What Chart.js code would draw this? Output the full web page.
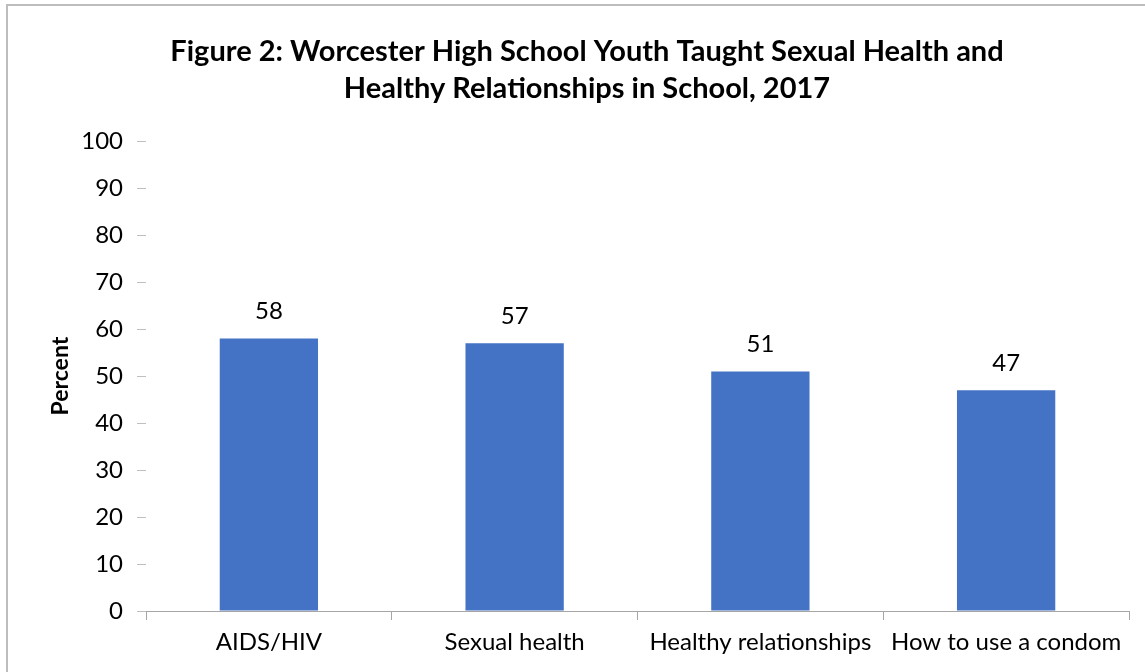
<!DOCTYPE html>
<html>
<head>
<meta charset="utf-8">
<script src="https://cdn.jsdelivr.net/npm/chart.js@4"></script>
<style>
  html, body { margin: 0; padding: 0; background: #fff; }
  #wrap { width: 1145px; height: 672px; position: relative; }
</style>
</head>
<body>
<div id="wrap"><canvas id="chart" width="1145" height="672"></canvas></div>
<script>
const categories = ['AIDS/HIV', 'Sexual health', 'Healthy relationships', 'How to use a condom'];
const percents = [58, 57, 51, 47];
const titleLines = ['Figure 2: Worcester High School Youth Taught Sexual Health and', 'Healthy Relationships in School, 2017'];
const yTitle = 'Percent';

const FONT = 'Lato, "Open Sans", sans-serif';

// value on top of each bar
const barLabels = {
    id: 'barLabels',
    afterDatasetsDraw(chart) {
        const ctx = chart.ctx;
        const meta = chart.getDatasetMeta(0);
        ctx.save();
        ctx.font = '24px ' + FONT;
        ctx.fillStyle = '#000';
        ctx.textAlign = 'center';
        ctx.textBaseline = 'middle';
        meta.data.forEach((bar, i) => {
            ctx.fillText(chart.data.datasets[0].data[i], bar.x, bar.y - 27);
        });
        ctx.restore();
    }
};

// thin grey frame round the chart
const frame = {
    id: 'frame',
    beforeDraw(chart) {
        const ctx = chart.ctx;
        ctx.save();
        ctx.fillStyle = '#fff';
        ctx.fillRect(0, 0, chart.width, chart.height);
        ctx.strokeStyle = '#bdbdbd';
        ctx.lineWidth = 2;
        ctx.strokeRect(7, 5, chart.width + 20, chart.height + 20);
        ctx.restore();
    }
};

new Chart(document.getElementById('chart').getContext('2d'), {
    type: 'bar',
    data: {
        labels: categories,
        datasets: [{
            data: percents,
            backgroundColor: '#4472C4',
            barPercentage: 0.4,
            categoryPercentage: 1.0
        }]
    },
    options: {
        responsive: false,
        animation: false,
        layout: { padding: { left: 45, right: 16, top: 0, bottom: 0 } },
        plugins: {
            legend: { display: false },
            tooltip: { enabled: false },
            title: {
                display: true,
                text: titleLines,
                color: '#000',
                font: { family: FONT, size: 29, weight: 'bold', lineHeight: 1.28 },
                padding: { top: 33, bottom: 34 }
            }
        },
        scales: {
            x: {
                grid: { offset: true, drawOnChartArea: false, drawTicks: true, tickLength: 9, color: '#a6a6a6' },
                border: { display: true, color: '#a6a6a6', width: 1 },
                ticks: { color: '#000', font: { family: FONT, size: 24 }, padding: 8, maxRotation: 0, autoSkip: false },
                afterFit(scale) { scale.height = 61; }
            },
            y: {
                min: 0,
                max: 100,
                ticks: { stepSize: 10, color: '#000', font: { family: FONT, size: 24 }, padding: 14 },
                grid: { drawOnChartArea: false, drawTicks: true, tickLength: 9, color: '#bfbfbf' },
                border: { display: false },
                title: { display: true, text: yTitle, color: '#000', font: { family: FONT, size: 23, weight: 'bold' }, padding: 2 },
                afterFit(scale) { scale.width = 101; }
            }
        }
    },
    plugins: [frame, barLabels]
});
</script>
</body>
</html>
